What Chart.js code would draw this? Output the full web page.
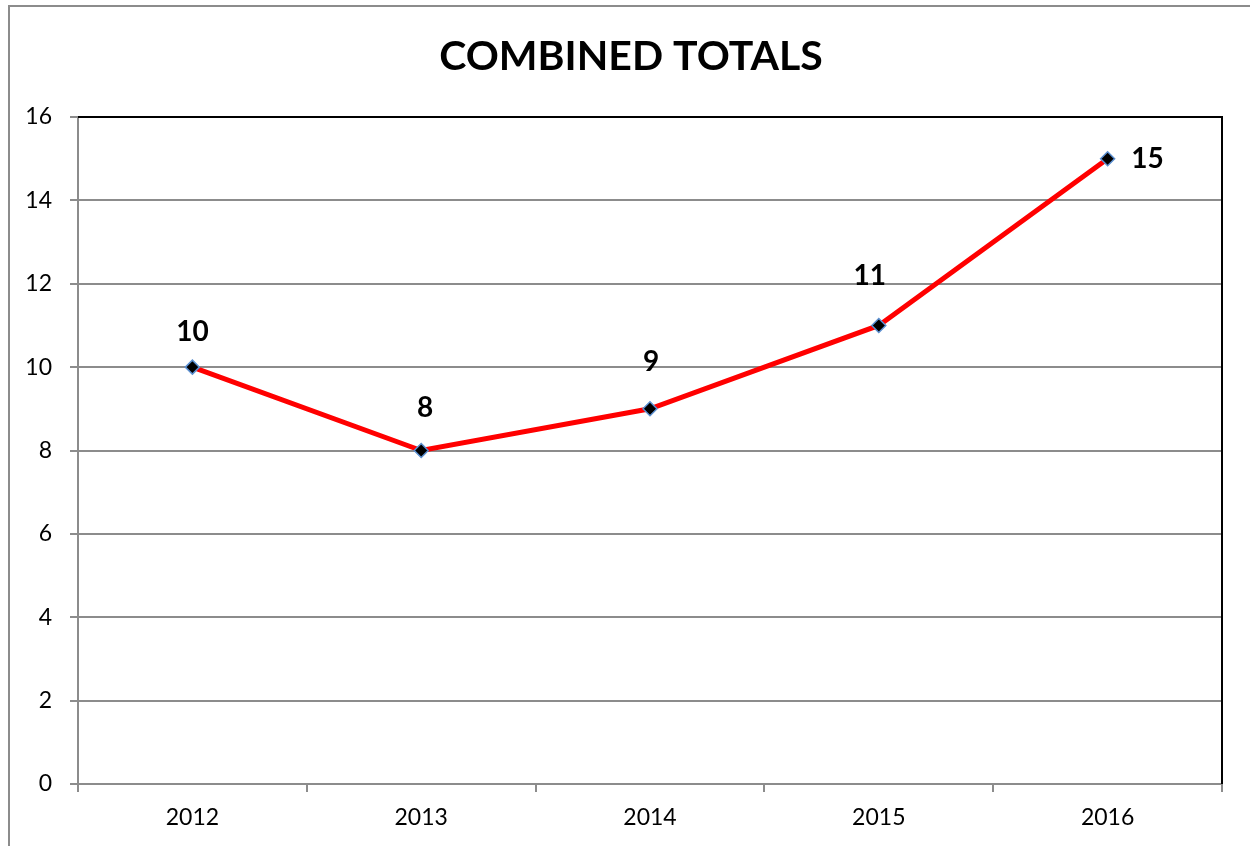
<!DOCTYPE html>
<html>
<head>
<meta charset="utf-8">
<script src="https://cdn.jsdelivr.net/npm/chart.js@4"></script>
<style>
  html, body { margin: 0; padding: 0; background: #fff; overflow: hidden; }
  #frame { position: absolute; left: 8px; top: 5px; width: 1260px; height: 860px; border: 2px solid #8c8c8c; }
  #wrap { position: absolute; left: 0; top: 0; width: 1250px; height: 846px; }
</style>
</head>
<body>
<div id="frame"></div>
<div id="wrap"><canvas id="chart"></canvas></div>
<script>
const years = ["2012", "2013", "2014", "2015", "2016"];
const totals = [10, 8, 9, 11, 15];
const yTicks = [0, 2, 4, 6, 8, 10, 12, 14, 16];
const chartTitle = "COMBINED TOTALS";

const font = "Lato, 'Open Sans', sans-serif";

// labels sit above the points, the last one to its right
const labelOffsets = [[0, -35], [4, -43], [1, -47], [-9, -49], [40, 0]];

const valueLabels = {
  id: "valueLabels",
  afterDatasetsDraw(chart) {
    const ctx = chart.ctx;
    const meta = chart.getDatasetMeta(0);
    ctx.save();
    ctx.font = "bold 28px " + font;
    ctx.fillStyle = "#000";
    ctx.textAlign = "center";
    ctx.textBaseline = "middle";
    meta.data.forEach((pt, i) => {
      const off = labelOffsets[i];
      ctx.fillText(String(totals[i]), pt.x + off[0], pt.y + off[1]);
    });
    ctx.restore();
  }
};

// title centred on the whole frame, plus black top/right plot border
const frameBits = {
  id: "frameBits",
  afterDraw(chart) {
    const a = chart.chartArea;
    const ctx = chart.ctx;
    ctx.save();
    ctx.strokeStyle = "#000";
    ctx.lineWidth = 2;
    ctx.beginPath();
    ctx.moveTo(a.left, a.top);
    ctx.lineTo(a.right, a.top);
    ctx.lineTo(a.right, a.bottom);
    ctx.stroke();
    ctx.font = "bold 41px " + font;
    ctx.fillStyle = "#000";
    ctx.textAlign = "center";
    ctx.textBaseline = "middle";
    ctx.fillText(chartTitle, 631, 57);
    ctx.restore();
  }
};

new Chart(document.getElementById("chart"), {
  type: "line",
  data: {
    labels: years,
    datasets: [{
      data: totals,
      borderColor: "#ff0000",
      borderWidth: 5,
      tension: 0,
      pointStyle: "rectRot",
      pointRadius: 7,
      pointBackgroundColor: "#000",
      pointBorderColor: "#5b8fd0",
      pointBorderWidth: 1.5
    }]
  },
  options: {
    responsive: true,
    maintainAspectRatio: false,
    animation: false,
    layout: { padding: { left: 0, right: 28, top: 117, bottom: 0 } },
    plugins: {
      legend: { display: false },
      tooltip: { enabled: false },
      title: { display: false }
    },
    scales: {
      x: {
        offset: true,
        grid: { offset: true, drawOnChartArea: false, color: "#8c8c8c", lineWidth: 2, tickLength: 8 },
        border: { color: "#8c8c8c", width: 2 },
        ticks: { color: "#000", font: { family: font, size: 23 }, padding: 12 },
        afterFit(scale) { scale.height = 62; }
      },
      y: {
        min: 0,
        max: 16,
        afterBuildTicks(scale) { scale.ticks = yTicks.map(v => ({ value: v })); },
        grid: { color: "#8c8c8c", lineWidth: 2, tickLength: 8 },
        border: { color: "#8c8c8c", width: 2 },
        ticks: { color: "#000", font: { family: font, size: 23 }, padding: 18 },
        afterFit(scale) { scale.width = 78; }
      }
    }
  },
  plugins: [valueLabels, frameBits]
});
</script>
</body>
</html>
